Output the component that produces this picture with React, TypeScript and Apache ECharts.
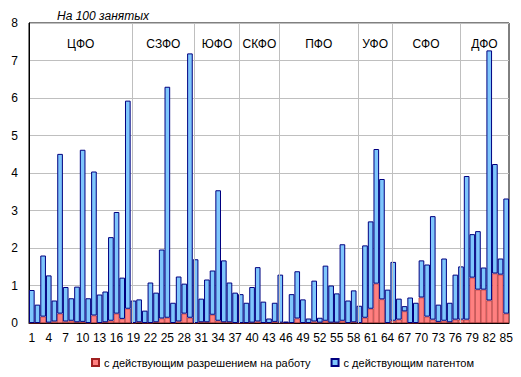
import React, { useEffect, useRef } from "react";
import * as echarts from "echarts";

// Region numbers 1..85
const regions: string[] = [
  "1","2","3","4","5","6","7","8","9","10","11","12","13","14","15","16","17","18","19","20",
  "21","22","23","24","25","26","27","28","29","30","31","32","33","34","35","36","37","38","39","40",
  "41","42","43","44","45","46","47","48","49","50","51","52","53","54","55","56","57","58","59","60",
  "61","62","63","64","65","66","67","68","69","70","71","72","73","74","75","76","77","78","79","80",
  "81","82","83","84","85",
];

// с действующим разрешением на работу (per 100 employed)
const workPermit: number[] = [
  0, 0, 0.17, 0.01, 0.04, 0.25, 0.04, 0.06, 0.02, 0.03,
  0, 0.2, 0, 0.02, 0.06, 0.25, 0.11, 0.38, 0, 0.02,
  0, 0, 0.02, 0.12, 0.14, 0, 0.04, 0.25, 0.14, 0,
  0.02, 0.02, 0.22, 0.06, 0.02, 0.02, 0, 0, 0, 0.01,
  0.04, 0, 0, 0.03, 0.01, 0, 0, 0.12, 0, 0,
  0.04, 0.01, 0.06, 0.01, 0.01, 0.06, 0, 0.02, 0, 0.14,
  0.38, 1.05, 0.63, 0, 0.06, 0.09, 0.31, 0, 0, 0.68,
  0.17, 0.09, 0.03, 0.06, 0.02, 0.09, 0.09, 0.09, 1.21, 0.89,
  0.89, 0.6, 1.32, 1.29, 0.25,
];

// с действующим патентом (per 100 employed)
const patent: number[] = [
  0.88, 0.49, 1.63, 1.26, 0.56, 4.26, 0.92, 0.6, 0.95, 4.59,
  0.66, 3.84, 0.76, 0.82, 2.23, 2.71, 1.1, 5.55, 0.6, 0.61,
  0.33, 1.08, 0.79, 1.84, 6.16, 0.54, 1.2, 0.8, 7.05, 1.7,
  0.63, 1.14, 1.18, 3.48, 1.65, 1.06, 0.81, 0.77, 0.54, 0.95,
  1.45, 0.57, 0.12, 0.51, 1.28, 0.04, 0.77, 1.26, 0.63, 0.12,
  1.09, 0.13, 1.47, 0.99, 0.78, 2.04, 0.6, 0.85, 0.46, 1.93,
  2.33, 3.59, 3.21, 0.89, 1.57, 0.56, 0.14, 0.68, 0.54, 0.99,
  1.39, 2.76, 0.46, 1.66, 0.52, 1.2, 1.42, 3.83, 1.16, 1.56,
  0.59, 6.67, 2.92, 0.43, 3.07,
];

// Federal districts and number of regions in each
const districts: string[] = ["ЦФО", "СЗФО", "ЮФО", "СКФО", "ПФО", "УФО", "СФО", "ДФО"];
const districtSizes: number[] = [18, 11, 8, 7, 14, 6, 12, 9];

const yTicks: number[] = [0, 1, 2, 3, 4, 5, 6, 7, 8];

const FONT = "'Liberation Sans', Arial, sans-serif";

export default function App() {
  const ref = useRef<HTMLDivElement>(null);

  useEffect(() => {
    if (!ref.current) return;
    const chart = echarts.init(ref.current, undefined, { renderer: "svg" });

    const bounds: number[] = [0];
    districtSizes.forEach((s) => bounds.push(bounds[bounds.length - 1] + s));
    const lineOffset = 0.3;

    const areas = districts.map((name, i) => [
      { xAxis: bounds[i] + (i === 0 ? 0 : lineOffset), name },
      { xAxis: bounds[i + 1] + (i === districts.length - 1 ? 0 : lineOffset) },
    ]);

    const option: any = {
      animation: false,
      textStyle: { fontFamily: FONT },
      title: {
        text: "На 100 занятых",
        left: 52,
        top: 5,
        textStyle: {
          fontFamily: FONT,
          fontStyle: "italic",
          fontWeight: "normal",
          fontSize: 12,
          color: "#000",
        },
      },
      legend: {
        bottom: 4,
        left: 86,
        itemWidth: 7,
        itemHeight: 7,
        itemGap: 20,
        icon: "rect",
        textStyle: { fontFamily: FONT, fontSize: 11, color: "#000" },
        data: ["с действующим разрешением на работу", "с действующим патентом"],
      },
      grid: {
        left: 29,
        right: 12,
        top: 23,
        bottom: 54,
        show: true,
        borderColor: "#000",
        borderWidth: 1,
        containLabel: false,
      },
      xAxis: [
        {
          type: "category",
          data: regions,
          axisLine: { show: true, lineStyle: { color: "#000", width: 1 } },
          axisTick: { show: false },
          axisLabel: {
            interval: 2,
            fontSize: 12,
            color: "#000",
            margin: 9,
            fontFamily: FONT,
          },
          splitLine: { show: false },
        },
        {
          type: "value",
          min: 0,
          max: 85,
          show: false,
          splitLine: { show: false },
        },
      ],
      yAxis: {
        type: "value",
        min: 0,
        max: 8,
        interval: 1,
        axisLine: { show: true, lineStyle: { color: "#000", width: 1 } },
        axisTick: { show: false },
        axisLabel: {
          fontSize: 12,
          color: "#000",
          margin: 11,
          fontFamily: FONT,
          formatter: (v: number) => (yTicks.includes(v) ? String(v) : ""),
        },
        splitLine: { show: true, lineStyle: { color: "#bfbfbf", width: 1 } },
      },
      series: [
        {
          name: "с действующим разрешением на работу",
          type: "bar",
          stack: "total",
          data: workPermit,
          barWidth: "100%",
          itemStyle: { color: "#ff8080", borderColor: "#a02020", borderWidth: 0.6 },
        },
        {
          name: "с действующим патентом",
          type: "bar",
          stack: "total",
          data: patent,
          barWidth: "100%",
          itemStyle: { color: "#7ec6fc", borderColor: "#000080", borderWidth: 1 },
        },
        {
          name: "districts",
          type: "scatter",
          xAxisIndex: 1,
          yAxisIndex: 0,
          data: [],
          silent: true,
          markLine: {
            silent: true,
            symbol: "none",
            label: { show: false },
            lineStyle: { color: "#bfbfbf", type: "solid", width: 1 },
            data: bounds.slice(1, -1).map((b) => ({ xAxis: b + lineOffset })),
          },
          markArea: {
            silent: true,
            itemStyle: { color: "rgba(0,0,0,0)" },
            label: {
              show: true,
              position: "insideTop",
              distance: 15,
              color: "#000",
              fontSize: 12,
              fontFamily: FONT,
            },
            data: areas,
          },
        },
      ],
    };

    chart.setOption(option);
    return () => chart.dispose();
  }, []);

  return (
    <div
      ref={ref}
      style={{ position: "fixed", left: 0, top: 0, width: 521, height: 377, background: "#fff" }}
    />
  );
}
